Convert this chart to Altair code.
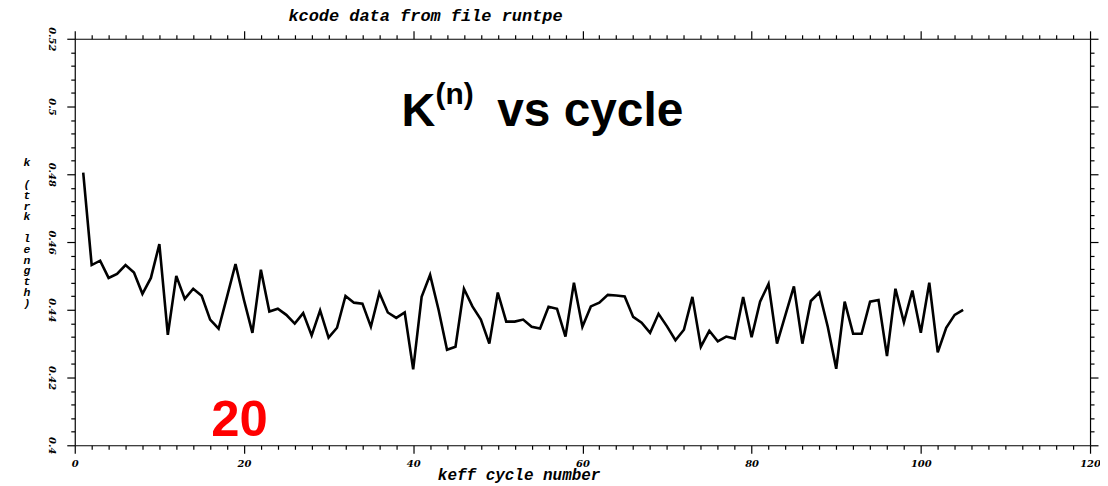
import altair as alt
import pandas as pd

# ---- data ----
cycles = list(range(1, 106))
k_values = [
    0.4805, 0.4532, 0.4545, 0.4494, 0.4506, 0.4532, 0.4510, 0.4447, 0.4494, 0.4594,
    0.4326, 0.4500, 0.4432, 0.4462, 0.4441, 0.4371, 0.4344, 0.4439, 0.4535, 0.4429,
    0.4332, 0.4518, 0.4395, 0.4403, 0.4385, 0.4359, 0.4390, 0.4324, 0.4398, 0.4318,
    0.4347, 0.4441, 0.4421, 0.4418, 0.4350, 0.4450, 0.4392, 0.4376, 0.4392, 0.4224,
    0.4438, 0.4503, 0.4400, 0.4282, 0.4291, 0.4462, 0.4410, 0.4371, 0.4300, 0.4451,
    0.4365, 0.4365, 0.4371, 0.4350, 0.4345, 0.4409, 0.4403, 0.4321, 0.4480, 0.4350,
    0.4410, 0.4421, 0.4444, 0.4442, 0.4439, 0.4379, 0.4362, 0.4332, 0.4388, 0.4351,
    0.4310, 0.4341, 0.4438, 0.4291, 0.4338, 0.4307, 0.4321, 0.4315, 0.4438, 0.4319,
    0.4424, 0.4476, 0.4300, 0.4385, 0.4469, 0.4300, 0.4426, 0.4451, 0.4350, 0.4226,
    0.4424, 0.4329, 0.4329, 0.4424, 0.4429, 0.4263, 0.4462, 0.4363, 0.4457, 0.4332,
    0.4480, 0.4274, 0.4347, 0.4385, 0.4400,
]

x_domain = [0, 120]
y_domain = [0.4, 0.52]
x_major = [0, 20, 40, 60, 80, 100, 120]
y_major = [0.4, 0.42, 0.44, 0.46, 0.48, 0.5, 0.52]
x_ticks = list(range(0, 121, 2))                          # minor every 2
y_ticks = [round(0.4 + 0.004 * i, 3) for i in range(31)]  # minor every 0.004

top_title = "kcode data from file runtpe"
x_title = "keff cycle number"
y_title = "k (trk length)"
big_k = "K"
big_sup = "(n)"
big_rest = "vs cycle"
page_number = "20"

df = pd.DataFrame({"cycle": cycles, "k": k_values})

xs = alt.Scale(domain=x_domain, nice=False, zero=False)
ys = alt.Scale(domain=y_domain, nice=False, zero=False)

X_TEST = "datum.value % 20 === 0"
Y_TEST = "abs(round(datum.value * 1000)) % 20 === 0"

common = dict(
    title=None, grid=False, domainColor="black", tickColor="black",
    domainWidth=1.2, tickWidth=1.2, labelColor="black",
    labelOverlap=False, labelFlush=False,
)

x_bottom = alt.Axis(
    orient="bottom", values=x_ticks,
    tickSize={"condition": {"test": X_TEST, "value": 8}, "value": 4},
    labelExpr=f"{X_TEST} ? format(datum.value, 'd') : ''",
    labelFont="DejaVu Serif", labelFontStyle="italic", labelFontWeight="bold",
    labelFontSize=10, labelPadding=5, **common,
)
x_top = alt.Axis(
    orient="top", values=x_ticks, labels=False,
    tickSize={"condition": {"test": X_TEST, "value": 8}, "value": 4},
    **common,
)
y_left = alt.Axis(
    orient="left", values=y_ticks,
    tickSize={"condition": {"test": Y_TEST, "value": 8}, "value": 4},
    labelExpr=f"{Y_TEST} ? format(datum.value, '~g') : ''",
    labelAngle=90, labelAlign="center", labelBaseline="top",
    labelFont="DejaVu Serif", labelFontStyle="italic", labelFontWeight="bold",
    labelFontSize=10, labelPadding=10, **common,
)
y_right = alt.Axis(
    orient="right", values=y_ticks, labels=False,
    tickSize={"condition": {"test": Y_TEST, "value": 8}, "value": 4},
    **common,
)

line = alt.Chart(df).mark_line(color="black", strokeWidth=2.6).encode(
    x=alt.X("cycle:Q", scale=xs, axis=x_bottom),
    y=alt.Y("k:Q", scale=ys, axis=y_left),
)
mirror = alt.Chart(df).mark_point(opacity=0).encode(
    x=alt.X("cycle:Q", scale=xs, axis=x_top),
    y=alt.Y("k:Q", scale=ys, axis=y_right),
)


def label(text, x, y, **kw):
    return alt.Chart(pd.DataFrame({"t": [text]})).mark_text(**kw).encode(
        x=alt.value(x), y=alt.value(y), text="t:N"
    )


mono = dict(font="Liberation Mono", fontStyle="italic", fontWeight="bold", color="black")

t_top = label(top_title, 352, -18, fontSize=17, align="center", baseline="alphabetic", **mono)
t_x = label(x_title, 446, 443, fontSize=16, align="center", baseline="alphabetic", **mono)

# vertical, stacked y-axis title (one upright character per line)
y_title_layers = [
    label(ch, -48, 125 + 10.85 * i, fontSize=11.5, align="center", baseline="middle", **mono)
    for i, ch in enumerate(y_title) if ch.strip()
]

sans = dict(font="Liberation Sans", fontWeight="bold", baseline="alphabetic", align="left")
t_k = label(big_k, 328, 88, fontSize=47, color="black", **sans)
t_sup = label(big_sup, 362, 65, fontSize=30, color="black", **sans)
t_rest = label(big_rest, 424, 88, fontSize=48, color="black", **sans)
t_page = label(page_number, 137, 399, fontSize=51, color="#ff0000", **sans)

chart = (
    alt.layer(line, mirror, t_top, t_x, *y_title_layers, t_k, t_sup, t_rest, t_page)
    .resolve_axis(x="independent", y="independent")
    .properties(
        width=1019, height=408,
        padding={"left": 67, "top": 30, "right": 10, "bottom": 40},
        autosize=alt.AutoSizeParams(type="none"),
        background="white",
    )
    .configure_view(strokeWidth=0)
)

chart.save("out.html", embed_options={"renderer": "svg", "actions": False})
